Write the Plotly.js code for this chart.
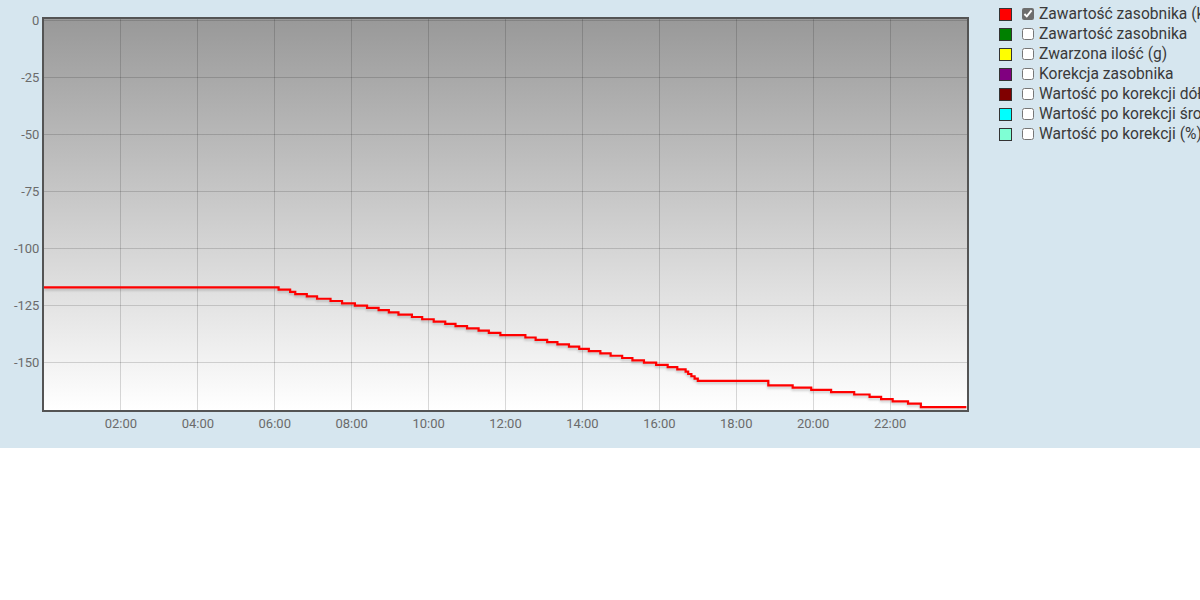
<!DOCTYPE html>
<html>
<head>
<meta charset="utf-8">
<script src="https://cdn.plot.ly/plotly-3.0.1.min.js"></script>
<style>
  html, body { margin: 0; padding: 0; background: #ffffff; width: 1200px; height: 600px; overflow: hidden; font-family: Roboto, "Noto Sans", sans-serif; }
  #wrap { position: absolute; left: 0; top: 0; width: 1200px; height: 448px; background: #d6e6ef; overflow: hidden; }
  #grad { position: absolute; left: 44px; top: 19px; width: 923px; height: 391px; background: linear-gradient(to bottom, #999999, #ffffff); }
  #chart { position: absolute; left: 0; top: 0; width: 1200px; height: 448px; }
  #chart .scatterlayer .js-line { filter: drop-shadow(0px 2px 1px rgba(0,0,0,0.18)); }
  #legend { position: absolute; left: 998px; top: 4px; width: 202px; overflow: hidden; }
  .row { position: relative; height: 20px; white-space: nowrap; }
  .sw { position: absolute; left: 1px; top: 4px; width: 11px; height: 11px; border: 1px solid #333; }
  .cb { position: absolute; left: 24px; top: 4px; width: 12px; height: 12px; margin: 0; accent-color: #6d6d6d; }
  .lbl { position: absolute; left: 41px; top: 0px; font-size: 15.6px; line-height: 20px; color: #3a3a3a; }
</style>
</head>
<body>
<div id="wrap">
  <div id="grad"></div>
  <div id="chart"></div>
  <div id="legend"></div>
</div>
<script>
// ---- data ----
var day = '2024-01-01';
var times = ['00:00','06:06','06:24','06:32','06:50','07:06','07:27','07:45','08:05','08:24','08:42','08:58','09:13',
             '09:34','09:50','10:08','10:26','10:42','11:00','11:18','11:34','11:52','12:31','12:47',
             '13:05','13:21','13:39','13:55','14:10','14:28','14:44','15:02','15:18','15:36','15:55','16:13','16:28',
             '16:41','16:45','16:50','16:55','17:00','18:50','19:28','19:57','20:28','21:04','21:28','21:46',
             '22:04','22:28','22:48','23:59'];
var levels = [-117,-118,-119,-120,-121,-122,-123,-124,-125,-126,-127,-128,-129,
              -130,-131,-132,-133,-134,-135,-136,-137,-138,-139,-140,
              -141,-142,-143,-144,-145,-146,-147,-148,-149,-150,-151,-152,-153,
              -154,-155,-156,-157,-158,-160,-161,-162,-163,-164,-165,-166,
              -167,-168,-169.5,-169.5];
var seriesNames = ['Zawartość zasobnika (kg)','Zawartość zasobnika','Zwarzona ilość (g)','Korekcja zasobnika',
                   'Wartość po korekcji dół (kg)','Wartość po korekcji środek (kg)','Wartość po korekcji (%)'];
var seriesColors = ['#ff0000','#008000','#ffff00','#800080','#800000','#00ffff','#7fffd4'];
var seriesChecked = [true,false,false,false,false,false,false];
var xTicks = ['02:00','04:00','06:00','08:00','10:00','12:00','14:00','16:00','18:00','20:00','22:00'];
var yTicks = [0,-25,-50,-75,-100,-125,-150];

// ---- chart ----
var xs = times.map(function(t){ return day + ' ' + t; });
var trace = {
  x: xs, y: levels, type: 'scatter', mode: 'lines',
  line: { color: '#ff0000', width: 2.2, shape: 'hv' },
  name: seriesNames[0], hoverinfo: 'x+y'
};
var axFont = { family: 'Roboto, sans-serif', size: 13, color: '#6b6b6b' };
var layout = {
  width: 1200, height: 448,
  margin: { l: 44, r: 233, t: 19, b: 38 },
  paper_bgcolor: 'rgba(0,0,0,0)', plot_bgcolor: 'rgba(0,0,0,0)',
  showlegend: false,
  xaxis: {
    type: 'date',
    range: [day + ' 00:00', '2024-01-02 00:00'],
    tickvals: xTicks.map(function(t){ return day + ' ' + t; }),
    ticktext: xTicks,
    showgrid: true, gridcolor: 'rgba(0,0,0,0.15)', gridwidth: 1,
    zeroline: false, showline: true, mirror: true, linecolor: '#545454', linewidth: 2,
    ticks: '', tickfont: axFont
  },
  yaxis: {
    range: [-170.8, 0.7],
    tickvals: yTicks, ticktext: yTicks.map(String),
    showgrid: true, gridcolor: 'rgba(0,0,0,0.15)', gridwidth: 1,
    zeroline: false, showline: true, mirror: true, linecolor: '#545454', linewidth: 2,
    ticks: '', tickfont: axFont
  }
};
Plotly.newPlot('chart', [trace], layout, { displayModeBar: false, staticPlot: true });

// ---- legend ----
var lg = document.getElementById('legend');
seriesNames.forEach(function(n, i){
  var row = document.createElement('div'); row.className = 'row';
  var sw = document.createElement('span'); sw.className = 'sw'; sw.style.background = seriesColors[i];
  var cb = document.createElement('input'); cb.type = 'checkbox'; cb.className = 'cb'; cb.checked = seriesChecked[i];
  var lb = document.createElement('span'); lb.className = 'lbl'; lb.textContent = n;
  row.appendChild(sw); row.appendChild(cb); row.appendChild(lb);
  lg.appendChild(row);
});
</script>
</body>
</html>
